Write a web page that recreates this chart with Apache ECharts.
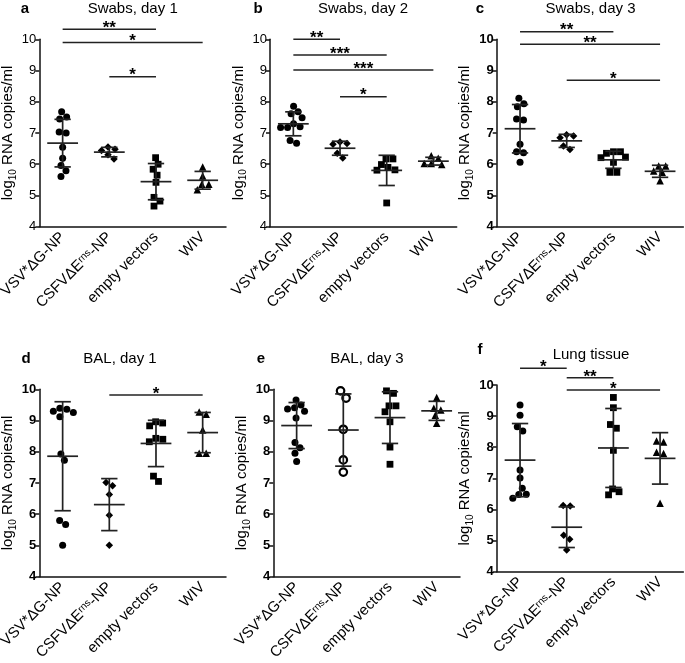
<!DOCTYPE html>
<html>
<head>
<meta charset="utf-8">
<script src="https://cdn.jsdelivr.net/npm/echarts@6/dist/echarts.min.js"></script>
<style>html,body{margin:0;padding:0;background:#fff}#c{width:685px;height:663px}</style>
</head>
<body>
<div id="c"></div>
<script>
// ---------- data ----------
const CATEGORIES = ['VSV*ΔG-NP', 'CSFVΔErns-NP', 'empty vectors', 'WIV'];
const PANEL_TITLES = ['Swabs, day 1', 'Swabs, day 2', 'Swabs, day 3', 'BAL, day 1', 'BAL, day 3', 'Lung tissue'];
const PANEL_LETTERS = ['a', 'b', 'c', 'd', 'e', 'f'];
const Y_MIN = 4, Y_MAX = 10, Y_STEP = 1;
const Y_TITLE = ['log', '10', ' RNA copies/ml'];

const a_vsv = [7.68, 7.51, 7.45, 7.03, 7.00, 6.54, 6.19, 5.96, 5.79, 5.61];
const a_csfv = [6.44, 6.55, 6.48, 6.30, 6.17];
const a_empty = [6.21, 6.00, 5.84, 5.65, 5.42, 4.94, 4.82, 4.66];
const a_wiv = [5.91, 5.62, 5.36, 5.36, 5.18];

const b_vsv = [7.86, 7.68, 7.62, 7.49, 7.30, 7.18, 7.18, 7.20, 6.67, 6.76];
const b_csfv = [6.64, 6.66, 6.71, 6.35, 6.20];
const b_empty = [6.17, 6.17, 5.99, 5.90, 5.82, 5.81, 4.76];
const b_wiv = [6.27, 6.19, 6.02, 5.99, 6.02];

const c_vsv = [7.94, 7.84, 8.11, 7.42, 7.45, 6.64, 6.37, 6.40, 6.06];
const c_csfv = [6.90, 6.85, 6.94, 6.58, 6.47];
const c_empty = [6.35, 6.40, 6.40, 6.21, 6.23, 6.06, 5.74, 5.74];
const c_wiv = [5.94, 5.94, 5.78, 5.74, 5.47];

const d_vsv = [9.36, 9.26, 9.12, 9.30, 9.39, 7.93, 7.73, 5.80, 5.67, 5.01];
const d_csfv = [7.02, 6.91, 6.63, 5.97, 5.01];
const d_empty = [8.96, 8.83, 8.92, 8.40, 8.32, 8.43, 7.05, 7.22];
const d_wiv = [9.20, 9.27, 8.70, 7.95, 7.95];

const e_vsv = [9.50, 9.37, 9.41, 9.66, 9.30, 9.08, 8.30, 8.13, 7.95, 7.69];
const e_csfv = [9.95, 9.72, 8.72, 7.74, 7.35];
const e_empty = [9.95, 9.87, 9.47, 9.47, 9.28, 8.96, 8.15, 7.60];
const e_wiv = [9.74, 9.39, 9.34, 9.17, 8.91];

const f_vsv = [9.36, 9.03, 8.66, 8.52, 7.27, 7.01, 6.68, 6.49, 6.48, 6.36];
const f_csfv = [6.11, 6.13, 5.17, 5.04, 4.70];
const f_empty = [9.60, 9.27, 8.61, 8.73, 7.90, 6.66, 6.57, 6.47];
const f_wiv = [8.17, 8.20, 7.84, 7.80, 6.20];

// significance brackets: [fromCategory, toCategory, yLevel, label]
const sig_a = [[0, 2, 10.32, '**'], [0, 3, 9.90, '*'], [1, 2, 8.80, '*']];
const sig_b = [[0, 1, 10.00, '**'], [0, 2, 9.50, '***'], [0, 3, 9.02, '***'], [1, 2, 8.16, '*']];
const sig_c = [[0, 2, 10.24, '**'], [0, 3, 9.84, '**'], [1, 3, 8.69, '*']];
const sig_d = [[1, 3, 9.82, '*']];
const sig_e = [];
const sig_f = [[0, 1, 10.54, '*'], [1, 2, 10.23, '**'], [1, 3, 9.84, '*']];

// ---------- assembly ----------
const PANELS = [
  [a_vsv, a_csfv, a_empty, a_wiv],
  [b_vsv, b_csfv, b_empty, b_wiv],
  [c_vsv, c_csfv, c_empty, c_wiv],
  [d_vsv, d_csfv, d_empty, d_wiv],
  [e_vsv, e_csfv, e_empty, e_wiv],
  [f_vsv, f_csfv, f_empty, f_wiv]
];
const SIGS = [sig_a, sig_b, sig_c, sig_d, sig_e, sig_f];

const FONT = '"Liberation Sans", Arial, Helvetica, sans-serif';
const INK = '#111';
const GW = 186.7;
const LAYOUT = [
  {left: 39.3, top: 39.3, h: 187.4, title: 132.7, titleTop: 1, letter: 25, letterTop: 1, bold: false},
  {left: 270, top: 39.3, h: 187.4, title: 363, titleTop: 1, letter: 258, letterTop: 1, bold: false},
  {left: 496.7, top: 39.3, h: 187.4, title: 590.5, titleTop: 1, letter: 480, letterTop: 1, bold: true},
  {left: 39.3, top: 389.3, h: 187.4, title: 120, titleTop: 351, letter: 26, letterTop: 351, bold: true},
  {left: 273.3, top: 389.3, h: 187.4, title: 367, titleTop: 351, letter: 261, letterTop: 351, bold: true},
  {left: 496.7, top: 385, h: 186.7, title: 591, titleTop: 347, letter: 480, letterTop: 342, bold: true}
];

function meanSd(v) {
  const m = v.reduce((s, x) => s + x, 0) / v.length;
  const sd = Math.sqrt(v.reduce((s, x) => s + (x - m) * (x - m), 0) / (v.length - 1));
  return [m, sd];
}

// beeswarm layout: pixel offsets so that symbols do not overlap, clusters re-centred
function swarm(vals, ppu, D) {
  const ys = vals.map(v => -v * ppu);
  const order = vals.map((v, i) => i).sort((i, j) => vals[j] - vals[i]);
  const xs = new Array(vals.length).fill(0);
  const placed = [];
  order.forEach(i => {
    let best = 0;
    for (let k = 0; k < 200; k++) {
      const cand = k === 0 ? 0 : (k % 2 ? 1 : -1) * Math.ceil(k / 2) * 0.5;
      const ok = placed.every(j => Math.hypot(cand - xs[j], ys[i] - ys[j]) >= D);
      if (ok) { best = cand; break; }
    }
    xs[i] = best;
    placed.push(i);
  });
  const sorted = order.slice();
  let cluster = [sorted[0]];
  const clusters = [];
  for (let k = 1; k < sorted.length; k++) {
    if (Math.abs(ys[sorted[k]] - ys[sorted[k - 1]]) < D) cluster.push(sorted[k]);
    else { clusters.push(cluster); cluster = [sorted[k]]; }
  }
  clusters.push(cluster);
  clusters.forEach(cl => {
    const m = cl.reduce((s, i) => s + xs[i], 0) / cl.length;
    cl.forEach(i => { xs[i] -= m; });
  });
  return xs;
}

const SYMBOLS = ['circle', 'diamond', 'rect', 'triangle'];
const SYMSIZE = [7, 7.5, 6.8, 7.5];

const grid = [], xAxis = [], yAxis = [], series = [], title = [];
PANELS.forEach((groups, p) => {
  const L = LAYOUT[p];
  grid.push({left: L.left, top: L.top, width: GW, height: L.h, containLabel: false, outerBoundsMode: 'none'});
  xAxis.push({
    type: 'category', gridIndex: p, data: CATEGORIES, boundaryGap: true,
    axisLine: {lineStyle: {color: INK, width: 1.5}},
    axisTick: {alignWithLabel: true, length: 5, lineStyle: {color: INK, width: 1.5}},
    axisLabel: {
      rotate: 45, margin: 8, color: '#000', fontFamily: FONT, fontSize: 15, interval: 0,
      formatter: v => v.replace('Erns', 'E{sup|rns}'),
      rich: {sup: {fontSize: 10, verticalAlign: 'top', fontFamily: FONT, color: '#000', lineHeight: 10}}
    },
    splitLine: {show: false}
  });
  yAxis.push({
    type: 'value', gridIndex: p, min: Y_MIN, max: Y_MAX, interval: Y_STEP,
    axisLine: {show: true, lineStyle: {color: INK, width: 1.5}},
    axisTick: {show: true, length: 4, lineStyle: {color: INK, width: 1.5}},
    axisLabel: {margin: 3, color: '#000', fontFamily: FONT, fontSize: 13, fontWeight: L.bold ? 'bold' : 'normal'},
    splitLine: {show: false},
    name: '{m|' + Y_TITLE[0] + '}{s|' + Y_TITLE[1] + '}{m|' + Y_TITLE[2] + '}',
    nameLocation: 'middle', nameRotate: 90, nameGap: 17,
    nameTextStyle: {
      rich: {
        m: {fontSize: 15, fontFamily: FONT, color: '#000', lineHeight: 20},
        s: {fontSize: 10, fontFamily: FONT, color: '#000', verticalAlign: 'bottom', lineHeight: 10}
      }
    }
  });
  title.push({text: PANEL_TITLES[p], left: L.title, top: L.titleTop, textAlign: 'center', padding: 0,
    textStyle: {fontFamily: FONT, fontSize: 15, fontWeight: 'normal', color: '#000'}});
  title.push({text: PANEL_LETTERS[p], left: L.letter, top: L.letterTop, textAlign: 'center', padding: 0,
    textStyle: {fontFamily: FONT, fontSize: 15, fontWeight: 'bold', color: '#000'}});

  const ppu = L.h / (Y_MAX - Y_MIN);
  groups.forEach((vals, g) => {
    const hollow = (p === 4 && g === 1);
    const offs = swarm(vals, ppu, hollow ? 9 : 7);
    series.push({
      type: 'scatter', xAxisIndex: p, yAxisIndex: p, silent: true, z: 2,
      symbol: hollow ? 'circle' : SYMBOLS[g], symbolSize: hollow ? 7.5 : SYMSIZE[g],
      itemStyle: hollow ? {color: '#fff', borderColor: '#000', borderWidth: 2.2, opacity: 1} : {color: '#000', opacity: 1},
      data: vals.map((v, i) => ({value: [g, v], symbolOffset: [offs[i], 0]}))
    });
  });
  // mean ± SD
  series.push({
    type: 'custom', xAxisIndex: p, yAxisIndex: p, silent: true, z: 3,
    dimensions: ['cat', 'mean', 'lo', 'hi'], encode: {x: 0, y: [1, 2, 3]},
    data: groups.map((vals, g) => { const [m, sd] = meanSd(vals); return [g, m, m - sd, m + sd]; }),
    renderItem: (params, api) => {
      const c = api.value(0);
      const pm = api.coord([c, api.value(1)]);
      const plo = api.coord([c, api.value(2)]);
      const phi = api.coord([c, api.value(3)]);
      const band = api.size([1, 0])[0];
      const hw = band * 0.33, cw = band * 0.175;
      const st = {stroke: '#222', lineWidth: 1.7};
      return {type: 'group', children: [
        {type: 'line', shape: {x1: pm[0] - hw, y1: pm[1], x2: pm[0] + hw, y2: pm[1]}, style: st},
        {type: 'line', shape: {x1: pm[0], y1: plo[1], x2: pm[0], y2: phi[1]}, style: st},
        {type: 'line', shape: {x1: pm[0] - cw, y1: plo[1], x2: pm[0] + cw, y2: plo[1]}, style: st},
        {type: 'line', shape: {x1: pm[0] - cw, y1: phi[1], x2: pm[0] + cw, y2: phi[1]}, style: st}
      ]};
    }
  });
  // significance brackets
  const sig = SIGS[p];
  if (sig.length) {
    series.push({
      type: 'custom', xAxisIndex: p, yAxisIndex: p, silent: true, z: 4, clip: false,
      dimensions: ['from', 'level', 'to'], encode: {x: 0, y: 1},
      data: sig.map(s => [s[0], s[2], s[1]]),
      renderItem: (params, api) => {
        const s = sig[params.dataIndex];
        const p1 = api.coord([s[0], s[2]]);
        const p2 = api.coord([s[1], s[2]]);
        return {type: 'group', children: [
          {type: 'line', shape: {x1: p1[0], y1: p1[1], x2: p2[0], y2: p2[1]}, style: {stroke: '#222', lineWidth: 1.5}},
          {type: 'text', x: (p1[0] + p2[0]) / 2, y: p1[1] - 1,
            style: {text: s[3], fontSize: 17, fontWeight: 'bold', fontFamily: FONT, fill: '#000', align: 'center', verticalAlign: 'middle'}}
        ]};
      }
    });
  }
});

const chart = echarts.init(document.getElementById('c'), null, {renderer: 'canvas'});
chart.setOption({animation: false, backgroundColor: '#fff', title, grid, xAxis, yAxis, series});
</script>
</body>
</html>
